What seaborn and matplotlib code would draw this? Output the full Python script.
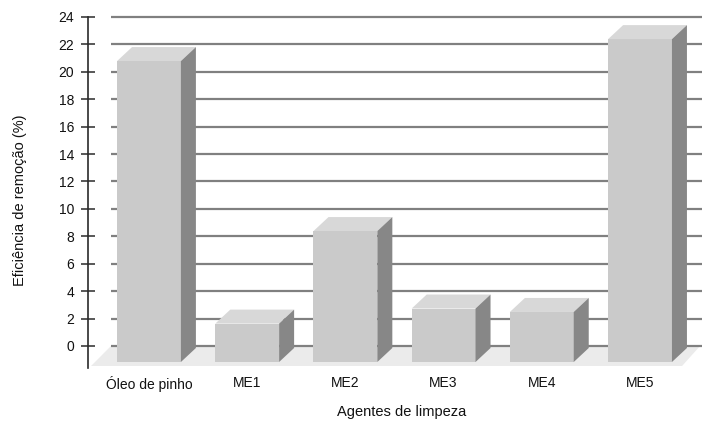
import numpy as np
import pandas as pd
import seaborn as sns
import matplotlib
matplotlib.use("Agg")
import matplotlib.pyplot as plt
from matplotlib.patches import Polygon
from matplotlib.transforms import ScaledTranslation

# Removal efficiency (%) for each cleaning agent
agentes = ["Óleo de pinho", "ME1", "ME2", "ME3", "ME4", "ME5"]
eficiencia = [21.95, 2.8, 9.55, 3.9, 3.65, 23.55]
y_ticks = list(range(0, 25, 2))

df = pd.DataFrame({"agente": agentes, "eficiencia": eficiencia})

sns.set_theme(style="white")
plt.rcParams["font.family"] = ["Liberation Sans", "DejaVu Sans"]

W, H, DPI = 702, 425, 100
fig = plt.figure(figsize=(W / DPI, H / DPI), dpi=DPI)

# axes box in pixels (from top-left)
ax_left, ax_right = 88, 702
ax_top, ax_bottom = 14.9, 368
ax = fig.add_axes([ax_left / W, (H - ax_bottom) / H,
                   (ax_right - ax_left) / W, (ax_bottom - ax_top) / H])

FACE = "#cacaca"
TOP = "#d8d8d8"
SIDE = "#878787"
FLOOR = "#ebebeb"
GRID = "#808080"

sns.barplot(data=df, x="agente", y="eficiencia", color=FACE, saturation=1,
            width=0.65, ax=ax, zorder=3, linewidth=0)
ax.set_xlim(-0.621, 5.631)
ax.set_ylim(-1.605, 24.15)

# pixel -> data scale factors
px_x = (ax.get_xlim()[1] - ax.get_xlim()[0]) / (ax_right - ax_left)
px_y = (ax.get_ylim()[1] - ax.get_ylim()[0]) / (ax_bottom - ax_top)

# floor of the 3D box
back_left, back_right = -0.387, 5.611
front_left, front_right = -0.590, 5.428
floor_front = -20 * px_y
ax.add_patch(Polygon([(back_left, 0), (back_right, 0), (front_right, floor_front),
                      (front_left, floor_front)], closed=True, facecolor=FLOOR,
                     edgecolor="none", zorder=0.5))

# gridlines on the back wall
ax.hlines(y_ticks, back_left, ax.get_xlim()[1], colors=GRID, linewidth=1.6, zorder=1)

# front faces sit in front of the back wall
front = ax.transData + ScaledTranslation(0, -0.16, fig.dpi_scale_trans)
dx, dy = 15 * px_x, 14 * px_y
for bar in list(ax.patches):
    if not hasattr(bar, "get_width") or bar.get_facecolor()[0] > 0.85:
        continue
    bar.set_transform(front)
    x0 = bar.get_x()
    x1 = x0 + bar.get_width()
    y0 = bar.get_y()
    y1 = y0 + bar.get_height()
    ax.add_patch(Polygon([(x0, y1), (x1, y1), (x1 + dx, y1 + dy), (x0 + dx, y1 + dy)],
                         closed=True, facecolor=TOP, edgecolor="none",
                         transform=front, zorder=3))
    ax.add_patch(Polygon([(x1, y0), (x1, y1), (x1 + dx, y1 + dy), (x1 + dx, y0 + dy)],
                         closed=True, facecolor=SIDE, edgecolor="none",
                         transform=front, zorder=3))

for s in ["top", "right", "bottom"]:
    ax.spines[s].set_visible(False)
ax.spines["left"].set_color("#2a2a2a")
ax.spines["left"].set_linewidth(1.2)
ax.spines["left"].set_bounds(ax.get_ylim()[0], 24)

ax.set_yticks(y_ticks)
ax.set_yticklabels([str(t) for t in y_ticks])
ax.tick_params(axis="y", direction="inout", length=10, width=1.1, color="#2a2a2a",
               labelsize=10, pad=5, labelcolor="#111111", left=True)
ax.tick_params(axis="x", length=0, labelsize=10, pad=6, labelcolor="#111111")
ax.set_xlabel("")
ax.set_ylabel("")

fig.text(402 / W, 1 - 412 / H, "Agentes de limpeza", ha="center", va="center",
         fontsize=10.5, color="#111111")
fig.text(20 / W, 1 - 200 / H, "Eficiência de remoção (%)", ha="center", va="center",
         rotation=90, fontsize=10.5, color="#111111")

fig.savefig("out.png", dpi=DPI)
